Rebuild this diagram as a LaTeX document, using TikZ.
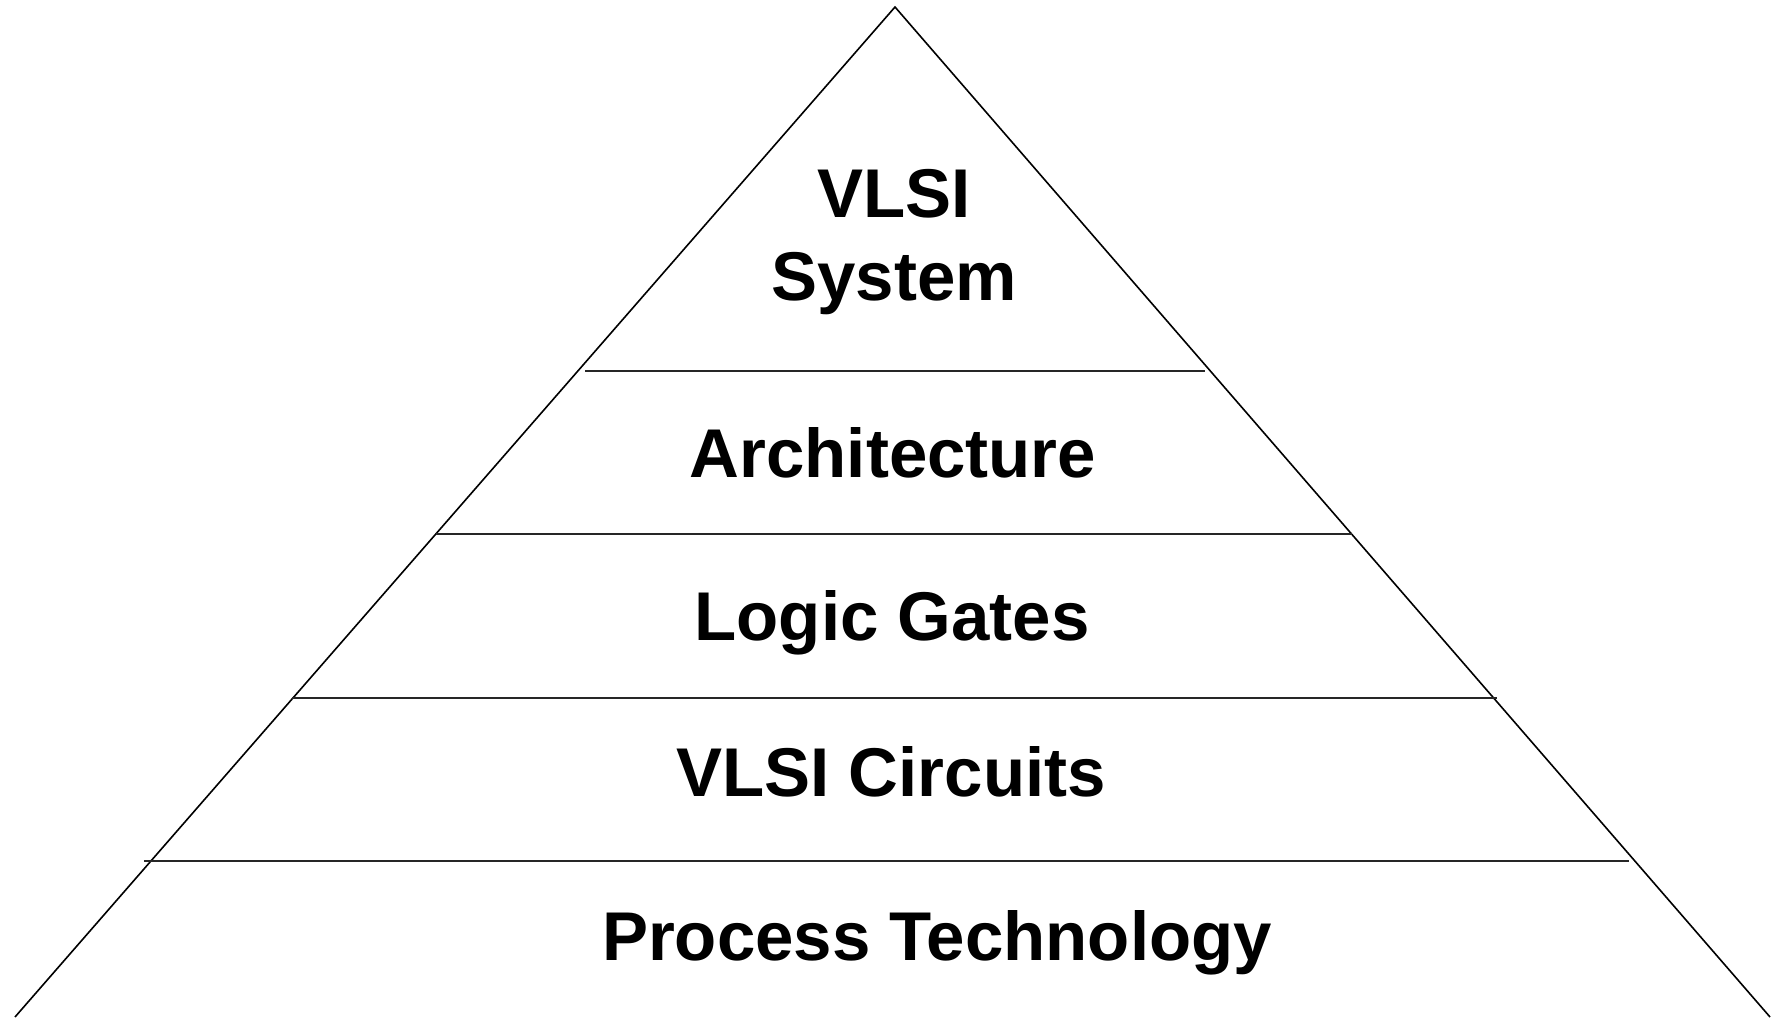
\documentclass[tikz,border=0pt]{standalone}
\usepackage{fontspec}
\setmainfont{Liberation Sans}
\begin{document}
\begin{tikzpicture}[x=1pt,y=-1pt,
  edge/.style={draw=black,line width=1.6pt},
  layer/.style={draw=black!85,line width=1.8pt},
  lbl/.style={anchor=base,inner sep=0pt,font=\fontsize{69}{83}\selectfont\bfseries}]
  \useasboundingbox (0,0) rectangle (1771,1017);
  % pyramid outline
  \coordinate (apex) at (895,7);
  \coordinate (bl) at (15,1017);
  \coordinate (br) at (1770,1017);
  \draw[edge] (bl) -- (apex) -- (br);
  % layer dividers
  \coordinate (d1l) at (585,371);  \coordinate (d1r) at (1205,371);
  \coordinate (d2l) at (436,534);  \coordinate (d2r) at (1352,534);
  \coordinate (d3l) at (292,698);  \coordinate (d3r) at (1497,698);
  \coordinate (d4l) at (144,861);  \coordinate (d4r) at (1629,861);
  \draw[layer] (d1l) -- (d1r);
  \draw[layer] (d2l) -- (d2r);
  \draw[layer] (d3l) -- (d3r);
  \draw[layer] (d4l) -- (d4r);
  % layer labels
  \node[lbl] (vlsi)   at (894,217) {VLSI};
  \node[lbl] (system) at (894,300) {System};
  \node[lbl] (arch)   at (893,477) {Architecture};
  \node[lbl] (gates)  at (892,640) {Logic Gates};
  \node[lbl] (circ)   at (891,796) {VLSI Circuits};
  \node[lbl] (proc)   at (937,960) {Process Technology};
\end{tikzpicture}
\end{document}
